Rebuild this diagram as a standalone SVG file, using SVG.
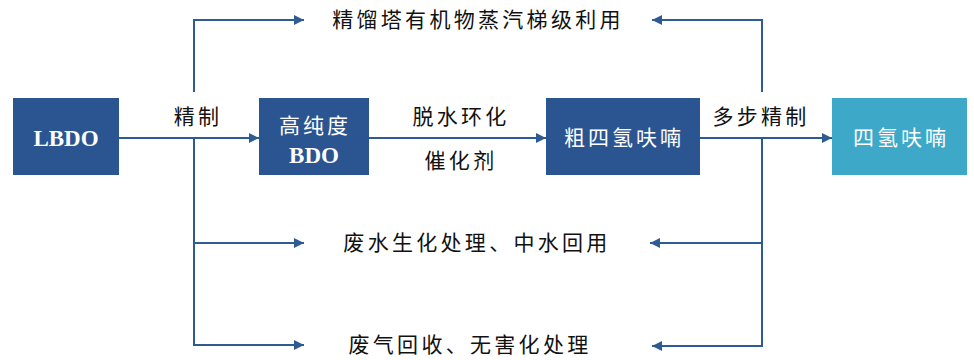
<svg xmlns="http://www.w3.org/2000/svg" width="974" height="360" viewBox="0 0 974 360">
<defs>
<style>
.box{fill:#2B5591}
.box2{fill:#3DA8C8}
.bt{fill:#fff;font-family:"Noto Sans CJK SC","Noto Sans CJK JP",sans-serif;font-size:21px;text-anchor:middle;letter-spacing:3px}
.bl{fill:#fff;font-family:"Liberation Serif",serif;font-size:23px;font-weight:bold;text-anchor:middle}
.lbl{fill:#111;font-family:"Noto Sans CJK SC","Noto Sans CJK JP",sans-serif;font-size:21px;text-anchor:middle;letter-spacing:3.3px}
.ln{fill:none;stroke:#2F5B94;stroke-width:2}
</style>
<marker id="ah" viewBox="0 0 10 10" refX="10" refY="5" markerWidth="10" markerHeight="10" markerUnits="userSpaceOnUse" orient="auto">
<path d="M0,0 L10,5 L0,10 z" fill="#2F5B94"/>
</marker>
</defs>
<rect width="974" height="360" fill="#fff"/>
<g id="connectors">
<line class="ln" x1="119" y1="138" x2="259" y2="138" marker-end="url(#ah)"/>
<line class="ln" x1="369" y1="138" x2="546" y2="138" marker-end="url(#ah)"/>
<line class="ln" x1="700" y1="138" x2="832" y2="138" marker-end="url(#ah)"/>
<polyline class="ln" points="194,92 194,20 304,20" marker-end="url(#ah)"/>
<polyline class="ln" points="194,138 194,345 304,345" marker-end="url(#ah)"/>
<line class="ln" x1="194" y1="243" x2="304" y2="243" marker-end="url(#ah)"/>
<polyline class="ln" points="762,92 762,20 652,20" marker-end="url(#ah)"/>
<polyline class="ln" points="762,138 762,346 652,346" marker-end="url(#ah)"/>
<line class="ln" x1="762" y1="243" x2="650" y2="243" marker-end="url(#ah)"/>
</g>
<g id="n-lbdo"><rect class="box" x="13" y="98" width="106" height="77"/><text class="bl" x="66" y="146">LBDO</text></g>
<g id="n-bdo"><rect class="box" x="259" y="98" width="110" height="77"/><text class="bt" x="315" y="133">高纯度</text><text class="bl" x="314" y="163">BDO</text></g>
<g id="n-crude"><rect class="box" x="546" y="98" width="154" height="77"/><text class="bt" x="624" y="145">粗四氢呋喃</text></g>
<g id="n-thf"><rect class="box2" x="832" y="98" width="135" height="77"/><text class="bt" x="901" y="145">四氢呋喃</text></g>
<g id="labels">
<text class="lbl" x="198" y="124">精制</text>
<text class="lbl" x="461" y="124">脱水环化</text>
<text class="lbl" x="461" y="168">催化剂</text>
<text class="lbl" x="761" y="124">多步精制</text>
<text class="lbl" x="478" y="27">精馏塔有机物蒸汽梯级利用</text>
<text class="lbl" x="477" y="250">废水生化处理、中水回用</text>
<text class="lbl" x="470" y="352">废气回收、无害化处理</text>
</g>
</svg>
